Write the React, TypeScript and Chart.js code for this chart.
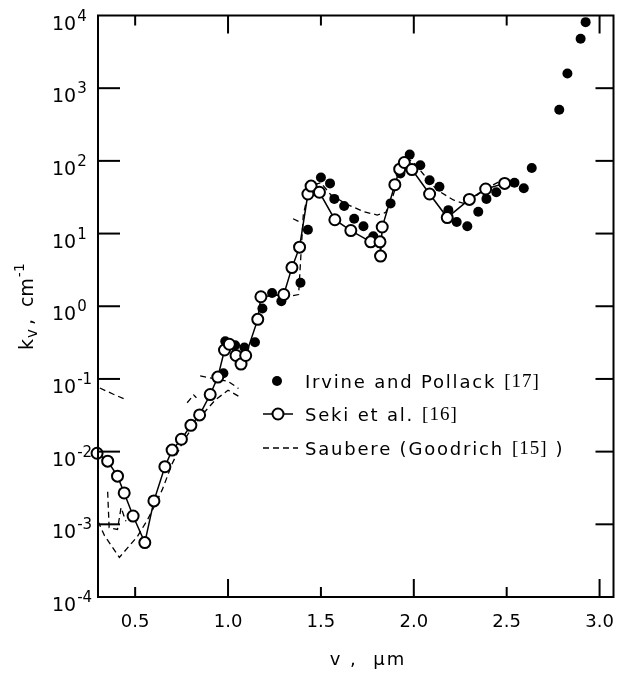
import { useEffect, useRef } from "react";
import { Chart, registerables } from "chart.js";

Chart.register(...registerables);

// ---- data (x in µm, y = k_v in cm^-1) ----
const irvineX = [0.975, 0.985, 1.038, 1.088, 1.145, 1.185, 1.237, 1.287, 1.39, 1.43, 1.5, 1.549, 1.572, 1.625, 1.679, 1.729, 1.782, 1.875, 1.928, 1.978, 2.035, 2.085, 2.138, 2.186, 2.231, 2.288, 2.347, 2.391, 2.444, 2.542, 2.592, 2.635, 2.783, 2.827, 2.898, 2.925];
const irvineY = [0.12, 0.33, 0.29, 0.27, 0.32, 0.93, 1.52, 1.17, 2.1, 11.3, 59, 49, 30, 24, 16, 12.6, 9.2, 26, 67, 122, 87, 54, 44, 21, 14.4, 12.6, 20, 30, 37, 50, 42, 80, 505, 1590, 4800, 8100];

const sekiX = [0.295, 0.352, 0.405, 0.441, 0.489, 0.552, 0.601, 0.66, 0.699, 0.749, 0.8, 0.847, 0.904, 0.945, 0.981, 1.007, 1.043, 1.07, 1.095, 1.16, 1.177, 1.3, 1.344, 1.385, 1.43, 1.447, 1.492, 1.575, 1.661, 1.768, 1.818, 1.821, 1.83, 1.898, 1.924, 1.949, 1.99, 2.085, 2.18, 2.299, 2.387, 2.489];
const sekiY = [0.0095, 0.0074, 0.0046, 0.0027, 0.0013, 0.00056, 0.0021, 0.0062, 0.0105, 0.0148, 0.023, 0.032, 0.061, 0.106, 0.25, 0.3, 0.21, 0.16, 0.21, 0.66, 1.35, 1.45, 3.4, 6.5, 35, 45, 37, 15.5, 11, 7.7, 7.7, 4.9, 12.3, 47, 77, 95, 76, 35, 16.6, 29.5, 41, 49];

// Saubere (Goodrich) dashed curves, several pieces
const sauAX = [0.31, 0.38, 0.45];
const sauAY = [0.075, 0.062, 0.052];
const sauBX = [0.3, 0.335, 0.415, 0.512, 0.566, 0.6, 0.646, 0.7, 0.753, 0.815, 0.869, 0.93, 1.0, 1.056];
const sauBY = [0.0011, 0.0007, 0.00035, 0.00068, 0.00115, 0.0017, 0.003, 0.0069, 0.013, 0.023, 0.034, 0.051, 0.07, 0.058];
const sauCX = [0.352, 0.36, 0.405, 0.424, 0.45];
const sauCY = [0.0028, 0.0009, 0.00085, 0.0017, 0.0011];
const sauDX = [0.78, 0.815, 0.83];
const sauDY = [0.047, 0.06, 0.055];
const sauEX = [0.85, 0.93, 1.0, 1.056];
const sauEY = [0.11, 0.1, 0.093, 0.074];
const sauFX = [1.35, 1.385];
const sauFY = [16, 14.5];
const sauGX = [1.35, 1.38, 1.39, 1.405, 1.44, 1.5, 1.554, 1.643, 1.732, 1.803, 1.848, 1.875, 1.92, 1.96, 2.0, 2.053, 2.124, 2.213, 2.267, 2.32, 2.391, 2.462, 2.515];
const sauGY = [1.4, 1.45, 4, 18, 45, 50, 34, 25, 20, 18, 19.5, 26, 60, 110, 95, 65, 40, 29, 26, 31, 42, 52, 58];

const xTicks = [0.5, 1.0, 1.5, 2.0, 2.5, 3.0];
const yExps = [-4, -3, -2, -1, 0, 1, 2, 3, 4];

const legendLabels = [
  ["Irvine and Pollack", "[17]", ""],
  ["Seki et al.", "[16]", ""],
  ["Saubere (Goodrich", "[15]", ")"],
];

const pts = (xs: number[], ys: number[]) => xs.map((x, i) => ({ x, y: ys[i] }));

const SANS = '"DejaVu Sans", "Liberation Sans", sans-serif';
const SERIF = '"Liberation Serif", "DejaVu Serif", serif';

const decorPlugin = {
  id: "decor",
  afterDraw(chart: any) {
    const { ctx, chartArea: a, scales } = chart;
    const xs = scales.x;
    const ys = scales.y;
    ctx.save();
    ctx.strokeStyle = "#000";
    ctx.fillStyle = "#000";
    ctx.lineWidth = 2;
    ctx.setLineDash([]);
    ctx.strokeRect(a.left, a.top, a.right - a.left, a.bottom - a.top);

    const seg = (x1: number, y1: number, x2: number, y2: number) => {
      ctx.beginPath();
      ctx.moveTo(x1, y1);
      ctx.lineTo(x2, y2);
      ctx.stroke();
    };

    // inward x ticks (top and bottom)
    xTicks.forEach((v) => {
      const px = xs.getPixelForValue(v);
      const len = Number.isInteger(v) ? 18 : 10;
      seg(px, a.bottom, px, a.bottom - len);
      seg(px, a.top, px, a.top + len);
    });
    // inward y ticks (left and right)
    yExps.forEach((e) => {
      if (e === yExps[0] || e === yExps[yExps.length - 1]) return;
      const py = ys.getPixelForValue(Math.pow(10, e));
      seg(a.left, py, a.left + 22, py);
      seg(a.right, py, a.right - 18, py);
    });

    // y tick labels 10^n
    ctx.textAlign = "left";
    ctx.textBaseline = "alphabetic";
    yExps.forEach((e) => {
      const py = ys.getPixelForValue(Math.pow(10, e));
      ctx.font = `19px ${SANS}`;
      ctx.fillText("10", 44, py + 14);
      const w = ctx.measureText("10").width;
      ctx.font = `15px ${SANS}`;
      ctx.fillText(e < 0 ? "-" + Math.abs(e) : String(e), 44 + w + 1, py + 5);
    });

    // y axis title: k_v , cm^-1 (rotated)
    ctx.save();
    ctx.translate(25, 342);
    ctx.rotate(-Math.PI / 2);
    let cx = 0;
    ctx.font = `19px ${SANS}`;
    ctx.fillText("k", cx, 0);
    cx += ctx.measureText("k").width + 1;
    ctx.font = `15px ${SANS}`;
    ctx.fillText("v", cx, 4);
    cx += ctx.measureText("v").width + 4;
    ctx.font = `19px ${SANS}`;
    ctx.fillText(",", cx, 0);
    cx += ctx.measureText(",").width + 12;
    ctx.fillText("cm", cx, 0);
    cx += ctx.measureText("cm").width + 1;
    ctx.font = `14px ${SANS}`;
    ctx.fillText("-1", cx, -9);
    ctx.restore();

    // x axis title
    ctx.font = `18px ${SANS}`;
    ctx.textAlign = "center";
    (ctx as any).letterSpacing = "2px";
    ctx.fillText("v ,  \u00b5m", 360, 657);
    (ctx as any).letterSpacing = "0px";

    // legend
    ctx.textAlign = "left";
    const rows = [373, 406, 440];
    // row 1: filled dot
    ctx.beginPath();
    ctx.arc(269, rows[0], 5, 0, Math.PI * 2);
    ctx.fill();
    // row 2: line + open circle
    ctx.lineWidth = 1.5;
    seg(255, rows[1], 285, rows[1]);
    ctx.beginPath();
    ctx.arc(270, rows[1], 5.5, 0, Math.PI * 2);
    ctx.fillStyle = "#fff";
    ctx.fill();
    ctx.lineWidth = 2;
    ctx.stroke();
    ctx.fillStyle = "#000";
    // row 3: dashed line
    ctx.lineWidth = 1.3;
    ctx.setLineDash([6, 4]);
    seg(255, rows[2], 290, rows[2]);
    ctx.setLineDash([]);

    legendLabels.forEach((parts, i) => {
      let lx = 297;
      const by = rows[i] + 7;
      ctx.font = `18px ${SANS}`;
      (ctx as any).letterSpacing = "1.8px";
      ctx.fillText(parts[0], lx, by);
      lx += ctx.measureText(parts[0]).width + 8;
      ctx.font = `19px ${SERIF}`;
      (ctx as any).letterSpacing = "1px";
      ctx.fillText(parts[1], lx, by - 1);
      lx += ctx.measureText(parts[1]).width + 8;
      if (parts[2]) {
        ctx.font = `18px ${SANS}`;
        ctx.fillText(parts[2], lx, by);
      }
      (ctx as any).letterSpacing = "0px";
    });

    ctx.restore();
  },
};

export default function App() {
  const ref = useRef<HTMLCanvasElement>(null);

  useEffect(() => {
    if (!ref.current) return;
    const dash = (xs: number[], ys: number[]) => ({
      data: pts(xs, ys),
      showLine: true,
      borderColor: "#000",
      borderWidth: 1.3,
      borderDash: [6, 4],
      pointRadius: 0,
      fill: false,
    });
    const chart = new Chart(ref.current, {
      type: "scatter",
      data: {
        datasets: [
          {
            label: "Seki et al. [16]",
            data: pts(sekiX, sekiY),
            showLine: true,
            clip: false,
            borderColor: "#000",
            borderWidth: 1.5,
            pointRadius: 5.5,
            pointBackgroundColor: "#fff",
            pointBorderColor: "#000",
            pointBorderWidth: 2,
          },
          {
            label: "Irvine and Pollack [17]",
            data: pts(irvineX, irvineY),
            showLine: false,
            clip: false,
            pointRadius: 5,
            pointBackgroundColor: "#000",
            pointBorderColor: "#000",
            pointBorderWidth: 0,
          },
          dash(sauAX, sauAY),
          dash(sauBX, sauBY),
          dash(sauCX, sauCY),
          dash(sauDX, sauDY),
          dash(sauEX, sauEY),
          dash(sauFX, sauFY),
          dash(sauGX, sauGY),
        ] as any,
      },
      options: {
        animation: false,
        responsive: false,
        events: [],
        layout: { padding: { top: 7, right: 4, left: 0, bottom: 0 } },
        plugins: { legend: { display: false }, tooltip: { enabled: false } },
        scales: {
          x: {
            type: "linear",
            min: 0.3,
            max: 3.075,
            grid: { display: false, drawTicks: false },
            border: { display: false },
            ticks: {
              color: "#000",
              font: { size: 18, family: SANS },
              padding: 15,
              maxRotation: 0,
              callback: (v: any) => Number(v).toFixed(1),
            },
            afterBuildTicks: (s: any) => {
              s.ticks = xTicks.map((value) => ({ value }));
            },
            afterFit: (s: any) => {
              s.height = 79;
              s.paddingLeft = 0;
              s.paddingRight = 0;
            },
          },
          y: {
            type: "logarithmic",
            min: 1e-4,
            max: 1e4,
            grid: { display: false, drawTicks: false },
            border: { display: false },
            ticks: { display: false },
            afterBuildTicks: (s: any) => {
              s.ticks = yExps.map((e) => ({ value: Math.pow(10, e) }));
            },
            afterFit: (s: any) => {
              s.width = 90;
              s.paddingTop = 0;
              s.paddingBottom = 0;
            },
          },
        },
      } as any,
      plugins: [decorPlugin],
    });
    return () => chart.destroy();
  }, []);

  return (
    <div style={{ width: 613, height: 668 }}>
      <canvas ref={ref} width={613} height={668} style={{ display: "block" }} />
    </div>
  );
}
